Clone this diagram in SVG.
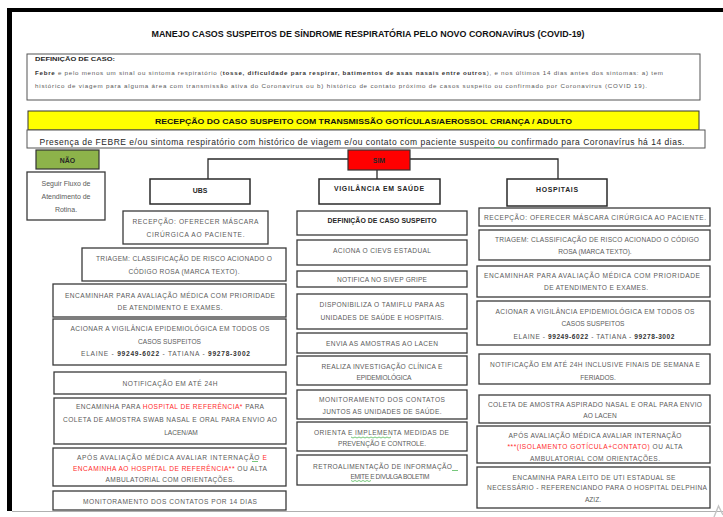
<svg xmlns="http://www.w3.org/2000/svg" width="723" height="517" viewBox="0 0 723 517">
  <style>
    text { font-family: "Liberation Sans", Arial, sans-serif; }
    .box { fill: #ffffff; stroke: #3a3a3a; stroke-width: 1.3; }
    .hbox { fill: #ffffff; stroke: #2a2a2a; stroke-width: 1.5; }
    .t { font-size: 6.6px; fill: #5a5a5a; text-anchor: middle; }
    .h { font-size: 6.9px; font-weight: bold; fill: #262626; text-anchor: middle; }
    .bd { font-weight: bold; fill: #333333; }
    .red { fill: #ff2a2a; }
    .conn { fill: none; stroke: #2a2a2a; stroke-width: 1.3; }
    .squig { fill: none; stroke: #3cb043; stroke-width: 0.7; }
  </style>

  <!-- page background and frame -->
  <rect x="0" y="0" width="723" height="517" fill="#ffffff"/>
  <rect x="7" y="8" width="716" height="4" fill="#000000"/>
  <rect x="7" y="8" width="5" height="503" fill="#000000"/>
  <line x1="12" y1="511.5" x2="723" y2="511.5" stroke="#b0b0b0" stroke-width="1"/>
  <polyline points="714,517 718.5,506 723,515" fill="none" stroke="#c4c4c4" stroke-width="1.4"/>

  <!-- title -->
  <text x="368" y="37" font-size="8.3" font-weight="bold" fill="#111" text-anchor="middle" textLength="433" lengthAdjust="spacingAndGlyphs">MANEJO CASOS SUSPEITOS DE SÍNDROME RESPIRATÓRIA PELO NOVO CORONAVÍRUS (COVID-19)</text>

  <!-- case definition -->
  <g id="definicao">
    <rect x="27" y="54" width="673" height="46" fill="#fff" stroke="#555" stroke-width="1"/>
    <text x="35" y="61" font-size="6.2" font-weight="bold" fill="#262626" textLength="80" lengthAdjust="spacingAndGlyphs">DEFINIÇÃO DE CASO:</text>
    <text x="35" y="75" font-size="6.2" fill="#5a5a5a" textLength="628"><tspan class="bd">Febre</tspan> e pelo menos um sinal ou sintoma respiratório (<tspan class="bd">tosse, dificuldade para respirar, batimentos de asas nasais entre outros</tspan>), e nos últimos 14 dias antes dos sintomas: a) tem</text>
    <text x="35" y="87.5" font-size="6.2" fill="#5a5a5a" textLength="612">histórico de viagem para alguma área com transmissão ativa do Coronavirus ou b) histórico de contato próximo de casos suspeito ou confirmado por Coronavirus (COVID 19).</text>
  </g>

  <!-- reception banner -->
  <g id="recepcao-caso">
    <rect x="28" y="111" width="671" height="19" fill="#ffff00" stroke="#333" stroke-width="1"/>
    <text x="363.5" y="124" font-size="8" font-weight="bold" fill="#111" text-anchor="middle" textLength="417" lengthAdjust="spacingAndGlyphs">RECEPÇÃO DO CASO SUSPEITO COM TRANSMISSÃO GOTÍCULAS/AEROSSOL CRIANÇA / ADULTO</text>
  </g>

  <!-- presence criterion -->
  <g id="criterio">
    <rect x="27" y="130" width="678" height="18" fill="#fff" stroke="#555" stroke-width="1"/>
    <text x="362" y="144.5" font-size="8.5" fill="#262626" text-anchor="middle" textLength="645">Presença de FEBRE e/ou sintoma respiratório com histórico de viagem e/ou contato com paciente suspeito ou confirmado para Coronavírus há 14 dias.</text>
    <path class="squig" d="M494,147 l1,1 l1,-1 l1,1 l1,-1 l1,1 l1,-1"/>
  </g>

  <!-- connectors -->
  <g id="connectors">
    <polyline class="conn" points="208,179 208,159 558,159 558,179"/>
    <line class="conn" x1="377" y1="170" x2="377" y2="179"/>
  </g>

  <!-- NO branch -->
  <g id="nao">
    <rect x="36" y="150" width="63" height="19" fill="#8db34a" stroke="#333" stroke-width="1.2"/>
    <text class="h" x="67.5" y="162.5">NÃO</text>
  </g>
  <g id="seguir-fluxo">
    <rect class="box" x="27" y="172" width="78" height="48"/>
    <text x="66" y="185.5" font-size="7" fill="#5a5a5a" text-anchor="middle">Seguir Fluxo de</text>
    <text x="66" y="198.5" font-size="7" fill="#5a5a5a" text-anchor="middle">Atendimento de</text>
    <text x="66" y="211.5" font-size="7" fill="#5a5a5a" text-anchor="middle">Rotina.</text>
  </g>

  <!-- YES branch -->
  <g id="sim">
    <rect x="348" y="150" width="62" height="20" fill="#ff0000" stroke="#333" stroke-width="1.2"/>
    <text class="h" x="379" y="162.5">SIM</text>
  </g>

  <!-- UBS column -->
  <g id="ubs">
    <rect class="hbox" x="150" y="179" width="100" height="25"/>
    <text class="h" x="200" y="192.5">UBS</text>
  </g>
  <g id="ubs-recepcao">
    <rect class="box" x="123" y="211" width="145" height="33"/>
    <text class="t" x="195.5" y="223.5" textLength="126">RECEPÇÃO: OFERECER  MÁSCARA</text>
    <text class="t" x="195.5" y="236.5" textLength="98">CIRÚRGICA AO PACIENTE.</text>
  </g>
  <g id="ubs-triagem">
    <rect class="box" x="82" y="248" width="204" height="33"/>
    <text class="t" x="184" y="260.5" textLength="176">TRIAGEM: CLASSIFICAÇÃO  DE RISCO ACIONADO  O</text>
    <text class="t" x="184" y="273.5" textLength="111">CÓDIGO ROSA (MARCA  TEXTO).</text>
  </g>
  <g id="ubs-encaminhar">
    <rect class="box" x="53" y="284" width="233" height="33"/>
    <text class="t" x="170" y="297.5" textLength="210">ENCAMINHAR PARA AVALIAÇÃO MÉDICA COM PRIORIDADE</text>
    <text class="t" x="170" y="309.5" textLength="105">DE ATENDIMENTO E EXAMES.</text>
  </g>
  <g id="ubs-acionar">
    <rect class="box" x="53" y="319" width="233" height="46"/>
    <text class="t" x="170" y="330.5" textLength="199">ACIONAR A VIGILÂNCIA EPIDEMIOLÓGICA  EM TODOS  OS</text>
    <text class="t" x="169.5" y="343.5" textLength="63">CASOS SUSPEITOS</text>
    <text class="t" x="165.5" y="355.5" textLength="169">ELAINE - <tspan class="bd">99249-6022</tspan>  - TATIANA  - <tspan class="bd">99278-3002</tspan></text>
  </g>
  <g id="ubs-notificacao">
    <rect class="box" x="54" y="372" width="232" height="22"/>
    <text class="t" x="170" y="385.5" textLength="95">NOTIFICAÇÃO EM ATÉ 24H</text>
  </g>
  <g id="ubs-hospital-referencia">
    <rect class="box" x="54" y="398" width="232" height="46"/>
    <text class="t" x="170" y="408.5" textLength="188">ENCAMINHA PARA <tspan class="red">HOSPITAL DE REFERÊNCIA*</tspan> PARA</text>
    <text class="t" x="170" y="421.5" textLength="214">COLETA DE AMOSTRA SWAB NASAL E ORAL PARA ENVIO AO</text>
    <text class="t" x="181" y="434.5">LACEN/AM</text>
  </g>
  <g id="ubs-internacao">
    <rect class="box" x="53" y="448" width="233" height="38"/>
    <text class="t" x="172" y="459.5" textLength="190">APÓS AVALIAÇÃO MÉDICA AVALIAR INTERNAÇÃO  <tspan class="red">E</tspan></text>
    <path class="squig" d="M252,461 l1,1 l1,-1 l1,1 l1,-1 l1,1 l1,-1"/>
    <text class="t" x="170" y="470.5" textLength="194"><tspan class="red">ENCAMINHA AO HOSPITAL DE REFERÊNCIA**</tspan>  OU ALTA</text>
    <text class="t" x="170" y="481.5" textLength="129">AMBULATORIAL COM ORIENTAÇÕES.</text>
  </g>
  <g id="ubs-monitoramento">
    <rect class="box" x="53" y="491" width="233" height="19"/>
    <text class="t" x="170" y="503.5" textLength="174">MONITORAMENTO  DOS CONTATOS  POR 14 DIAS</text>
  </g>

  <!-- health surveillance column -->
  <g id="vigilancia">
    <rect class="hbox" x="319" y="179" width="121" height="25"/>
    <text class="h" x="379" y="191" textLength="90">VIGILÂNCIA  EM SAÚDE</text>
  </g>
  <g id="vig-definicao">
    <rect class="box" x="297" y="211" width="170" height="24"/>
    <text class="h" x="382" y="223" font-size="6.4" textLength="109">DEFINIÇÃO DE CASO SUSPEITO</text>
  </g>
  <g id="vig-cievs">
    <rect class="box" x="297" y="240" width="170" height="25"/>
    <text class="t" x="382" y="252.5" textLength="98">ACIONA O CIEVS ESTADUAL</text>
  </g>
  <g id="vig-sivep">
    <rect class="box" x="297" y="271" width="170" height="16"/>
    <text class="t" x="382" y="281.5" textLength="90">NOTIFICA NO SIVEP GRIPE</text>
  </g>
  <g id="vig-tamiflu">
    <rect class="box" x="297" y="294" width="170" height="35"/>
    <text class="t" x="382" y="306.5" textLength="125">DISPONIBILIZA  O TAMIFLU PARA  AS</text>
    <text class="t" x="382" y="319.5" textLength="123">UNIDADES DE SAÚDE E HOSPITAIS.</text>
  </g>
  <g id="vig-lacen">
    <rect class="box" x="297" y="333" width="170" height="20"/>
    <text class="t" x="382" y="346" textLength="112">ENVIA AS AMOSTRAS AO LACEN</text>
  </g>
  <g id="vig-investigacao">
    <rect class="box" x="297" y="356" width="170" height="29"/>
    <text class="t" x="382" y="368.5" textLength="121">REALIZA  INVESTIGAÇÃO CLÍNICA  E</text>
    <text class="t" x="384" y="379.5" textLength="55">EPIDEMIOLÓGICA</text>
  </g>
  <g id="vig-monitoramento">
    <rect class="box" x="297" y="390" width="170" height="29"/>
    <text class="t" x="382" y="401.5" textLength="126">MONITORAMENTO  DOS  CONTATOS</text>
    <text class="t" x="382" y="413.5" textLength="119">JUNTOS AS UNIDADES DE SAÚDE.</text>
  </g>
  <g id="vig-prevencao">
    <rect class="box" x="297" y="422" width="170" height="29"/>
    <text class="t" x="381.5" y="434.5" textLength="135">ORIENTA E IMPLEMENTA  MEDIDAS DE</text>
    <path class="squig" d="M351,437 l2,1 l2,-1 l2,1 l2,-1 l2,1 l2,-1 l2,1 l2,-1 l2,1 l2,-1 l2,1 l2,-1 l2,1 l2,-1 l2,1 l2,-1 l2,1 l2,-1 l2,1 l2,-1"/>
    <text class="t" x="382" y="445.5" textLength="88">PREVENÇÃO E CONTROLE.</text>
  </g>
  <g id="vig-boletim">
    <rect class="box" x="297" y="455" width="170" height="30"/>
    <text class="t" x="382.5" y="468.5" textLength="139">RETROALIMENTAÇÃO  DE INFORMAÇÃO</text>
    <path class="squig" d="M452,470 l1,1 l1,-1 l1,1 l1,-1 l1,1 l1,-1"/>
    <text class="t" x="390" y="478.5" textLength="79">EMITE E DIVULGA BOLETIM</text>
    <path class="squig" d="M351,480.5 l2,1 l2,-1 l2,1 l2,-1 l2,1 l2,-1 l2,1 l2,-1 l2,1 l2,-1"/>
  </g>

  <!-- hospitals column -->
  <g id="hospitais">
    <rect class="hbox" x="507" y="179" width="100" height="27"/>
    <text class="h" x="557" y="191.5" textLength="42">HOSPITAIS</text>
  </g>
  <g id="hosp-recepcao">
    <rect class="box" x="479" y="208" width="231" height="18"/>
    <text class="t" x="595" y="219.5" textLength="222">RECEPÇÃO: OFERECER  MÁSCARA CIRÚRGICA  AO PACIENTE.</text>
  </g>
  <g id="hosp-triagem">
    <rect class="box" x="479" y="230" width="231" height="30"/>
    <text class="t" x="597" y="241.5" textLength="204">TRIAGEM: CLASSIFICAÇÃO  DE RISCO ACIONADO  O CÓDIGO</text>
    <text class="t" x="595" y="253.5">ROSA (MARCA  TEXTO).</text>
  </g>
  <g id="hosp-encaminhar">
    <rect class="box" x="477" y="266" width="233" height="31"/>
    <text class="t" x="592" y="277.5" textLength="216">ENCAMINHAR PARA AVALIAÇÃO MÉDICA COM PRIORIDADE</text>
    <text class="t" x="596" y="289.5" textLength="104">DE ATENDIMENTO E EXAMES.</text>
  </g>
  <g id="hosp-acionar">
    <rect class="box" x="477" y="301" width="233" height="44"/>
    <text class="t" x="595" y="313.5" textLength="199">ACIONAR A VIGILÂNCIA EPIDEMIOLÓGICA  EM TODOS  OS</text>
    <text class="t" x="593" y="325.5" textLength="63">CASOS SUSPEITOS</text>
    <text class="t" x="594" y="339" textLength="161">ELAINE - <tspan class="bd">99249-6022</tspan>  - TATIANA  - <tspan class="bd">99278-3002</tspan></text>
  </g>
  <g id="hosp-notificacao">
    <rect class="box" x="479" y="354" width="231" height="30"/>
    <text class="t" x="595" y="366.5" textLength="210">NOTIFICAÇÃO EM ATÉ 24H INCLUSIVE  FINAIS DE SEMANA E</text>
    <text class="t" x="598" y="379.5">FERIADOS.</text>
  </g>
  <g id="hosp-coleta">
    <rect class="box" x="479" y="395" width="231" height="28"/>
    <text class="t" x="595" y="406.5" textLength="214">COLETA DE AMOSTRA  ASPIRADO NASAL E ORAL PARA  ENVIO</text>
    <text class="t" x="600" y="417.5">AO LACEN</text>
  </g>
  <g id="hosp-internacao">
    <rect class="box" x="477" y="426" width="233" height="37"/>
    <text class="t" x="595" y="437.5" textLength="173">APÓS AVALIAÇÃO MÉDICA AVALIAR INTERNAÇÃO</text>
    <text class="t" x="595" y="448.5" textLength="175"><tspan class="red">***(ISOLAMENTO  GOTÍCULA+CONTATO)</tspan>  OU ALTA</text>
    <text class="t" x="595" y="460.5" textLength="130">AMBULATORIAL  COM  ORIENTAÇÕES.</text>
  </g>
  <g id="hosp-uti">
    <rect class="box" x="477" y="467" width="233" height="41"/>
    <text class="t" x="594" y="479.5" textLength="163">ENCAMINHA PARA  LEITO DE UTI ESTADUAL SE</text>
    <text class="t" x="597" y="489.5" textLength="220">NECESSÁRIO  - REFERENCIANDO  PARA O HOSPITAL DELPHINA</text>
    <text class="t" x="593" y="501.5">AZIZ.</text>
  </g>
</svg>
